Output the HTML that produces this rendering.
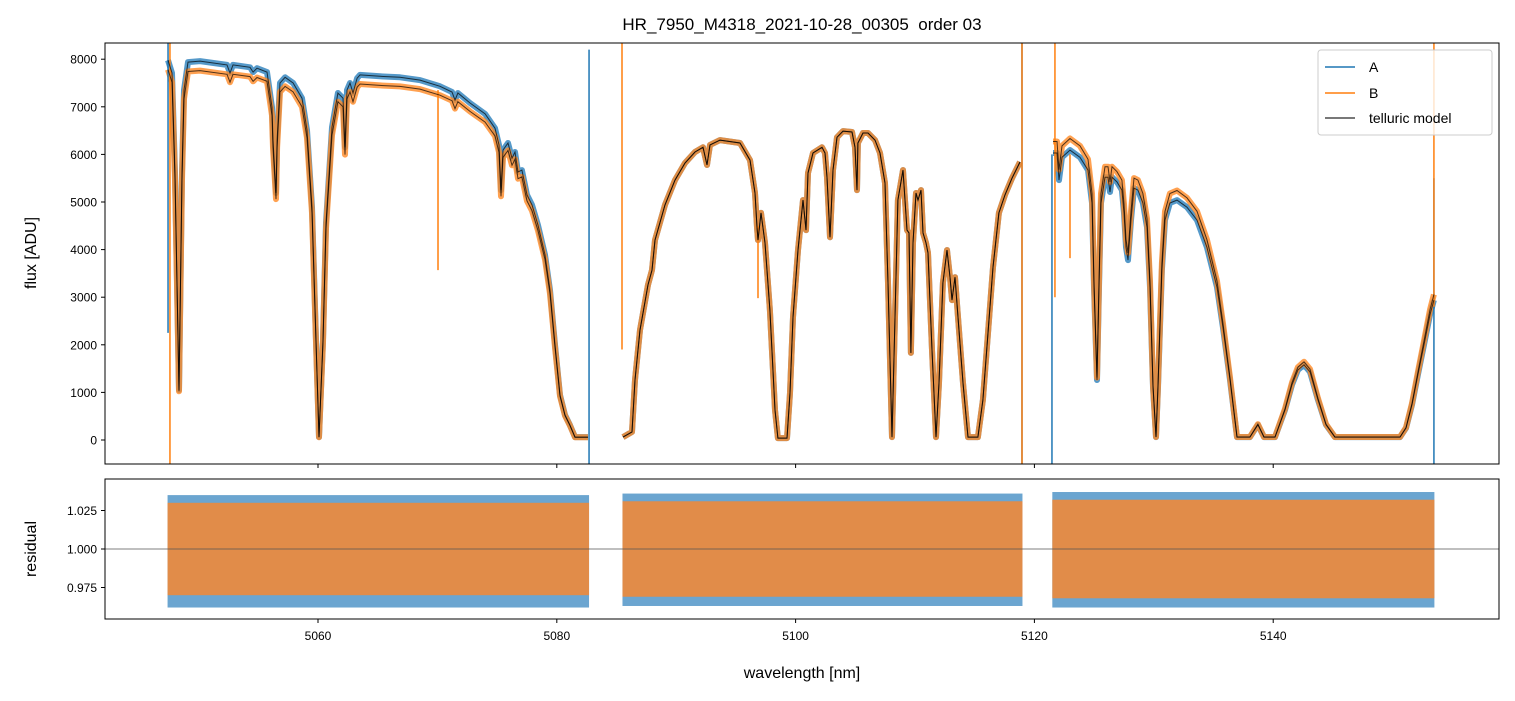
<!DOCTYPE html>
<html><head><meta charset="utf-8"><style>
body{margin:0;background:#fff;font-family:"Liberation Sans",sans-serif}
svg text{font-family:"Liberation Sans",sans-serif;fill:#000}
</style></head><body>
<svg id="chart" width="1515" height="696" viewBox="0 0 1515 696" xmlns="http://www.w3.org/2000/svg">
<defs>
<clipPath id="clipTop"><rect x="105" y="43" width="1394" height="421"/></clipPath>
<clipPath id="clipBot"><rect x="105" y="479" width="1394" height="140"/></clipPath>
</defs>
<text x="802" y="30" font-size="17" text-anchor="middle" style="white-space:pre">HR_7950_M4318_2021-10-28_00305  order 03</text>
<g id="topG" clip-path="url(#clipTop)"></g>
<g id="botG" clip-path="url(#clipBot)"></g>
<rect x="105" y="43" width="1394" height="421" fill="none" stroke="#000" stroke-width="1"/>
<rect x="105" y="479" width="1394" height="140" fill="none" stroke="#000" stroke-width="1"/>
<g id="axesG"></g>
<text transform="translate(36,253) rotate(-90)" font-size="16" text-anchor="middle">flux [ADU]</text>
<text transform="translate(36,549) rotate(-90)" font-size="16" text-anchor="middle">residual</text>
<text x="802" y="678" font-size="16" text-anchor="middle">wavelength [nm]</text>
<g>
<rect x="1318" y="50" width="174" height="85" rx="3" fill="#fff" fill-opacity="0.8" stroke="#ccc"/>
<line x1="1325" y1="67" x2="1355" y2="67" stroke="#1f77b4" stroke-width="1.5"/>
<text x="1369" y="72" font-size="14">A</text>
<line x1="1325" y1="93" x2="1355" y2="93" stroke="#ff7f0e" stroke-width="1.5"/>
<text x="1369" y="98" font-size="14">B</text>
<line x1="1325" y1="118" x2="1355" y2="118" stroke="#000" stroke-opacity="0.7" stroke-width="1.5"/>
<text x="1369" y="123" font-size="14">telluric model</text>
</g>
</svg>
<script>
const segStart = [5047.4, 5085.5, 5121.5];
const segEnd = [5082.7, 5119.0, 5153.5];
const ratioB = [0.975, 1.0, 1.04];
const modelWl = [5047.44,5047.77,5048.02,5048.36,5048.61,5048.78,5049.11,5050.12,5052.38,5052.63,5052.88,5054.30,5054.56,5054.89,5055.73,5056.15,5056.23,5056.48,5056.57,5056.82,5057.24,5057.91,5058.66,5059.08,5059.50,5059.83,5060.08,5060.42,5060.67,5061.17,5061.67,5062.09,5062.26,5062.43,5062.68,5062.93,5063.27,5063.52,5065.19,5066.87,5068.54,5070.22,5071.22,5071.47,5071.72,5072.73,5073.99,5074.82,5075.16,5075.33,5075.49,5075.91,5076.25,5076.50,5076.75,5077.08,5077.50,5077.92,5078.42,5079.01,5079.43,5079.85,5080.27,5080.69,5081.10,5081.52,5082.61,
5085.54,5086.30,5086.55,5086.97,5087.64,5087.97,5088.22,5089.06,5089.90,5090.74,5091.57,5092.24,5092.58,5092.83,5093.67,5095.34,5096.18,5096.60,5096.77,5096.85,5097.10,5097.44,5097.85,5098.27,5098.52,5099.28,5099.53,5099.78,5100.20,5100.62,5100.87,5101.04,5101.46,5102.21,5102.46,5102.63,5102.88,5103.13,5103.47,5103.97,5104.72,5104.97,5105.14,5105.22,5105.64,5106.06,5106.65,5107.07,5107.49,5107.74,5108.07,5108.32,5108.57,5108.99,5109.33,5109.50,5109.66,5109.83,5110.08,5110.25,5110.50,5110.67,5110.92,5111.09,5111.42,5111.76,5112.01,5112.34,5112.68,5112.93,5113.10,5113.35,5113.60,5114.02,5114.44,5115.27,5115.69,5116.11,5116.53,5117.03,5117.54,5118.12,5118.79,
5121.56,5121.89,5122.06,5122.31,5122.98,5123.82,5124.49,5124.82,5124.99,5125.24,5125.41,5125.58,5125.91,5126.16,5126.33,5126.50,5126.92,5127.33,5127.50,5127.67,5127.84,5128.09,5128.34,5128.67,5129.09,5129.43,5129.68,5129.93,5130.18,5130.35,5130.68,5130.94,5131.35,5131.94,5132.78,5133.62,5134.45,5135.29,5135.79,5136.38,5136.97,5138.05,5138.72,5139.23,5140.15,5140.99,5141.57,5142.07,5142.58,5143.08,5143.75,5144.42,5145.17,5150.62,5151.12,5151.62,5152.12,5152.63,5153.13,5153.46];
const modelFlux = [7980,7710,5610,1050,5610,7350,7940,7960,7880,7710,7880,7830,7730,7810,7730,6990,6300,5190,6300,7500,7620,7500,7180,6510,4890,2100,60,2100,4560,6570,7290,7180,6150,7350,7500,7290,7600,7670,7640,7620,7560,7430,7310,7140,7290,7080,6850,6550,6200,5250,6090,6240,5920,6050,5630,5670,5150,4940,4520,3890,3150,2000,945,525,315,60,60,
60,170,1260,2310,3260,3570,4200,4940,5460,5820,6050,6150,5780,6200,6300,6240,5880,5190,4470,4200,4770,4140,2730,630,40,40,990,2580,3990,5040,4410,5610,6030,6150,6030,5520,4260,5670,6360,6490,6470,6150,5250,6240,6450,6450,6300,6030,5400,3300,60,2580,5040,5670,4410,4350,1830,4140,5190,5040,5250,4350,4140,3930,1890,60,1200,3300,3990,3420,2940,3420,2580,1200,60,60,840,2250,3630,4770,5150,5500,5840,
6030,6030,5460,5940,6090,5940,5670,4980,3210,1260,3210,4980,5520,5520,5210,5520,5420,5250,4770,4050,3780,4620,5290,5250,4980,4470,3210,1110,60,1110,3570,4620,4980,5040,4890,4620,4050,3210,2370,1260,60,60,320,60,60,630,1160,1470,1580,1430,840,320,60,60,250,740,1370,2000,2630,2940];
const spikeSeries = ["A","A","A","A","A","B","B","B","B","B","B","B","B"];
const spikeWl = [5047.44,5082.70,5118.96,5121.47,5153.46,5047.60,5085.46,5118.96,5121.72,5153.46,5070.05,5122.98,5096.85];
const spikeFrom = [8340,8200,8340,6000,5500,8340,8340,8340,8340,8340,7350,6000,4500];
const spikeTo = [2250,-520,-520,-520,-520,-520,1900,-520,3000,2800,3570,3820,2980];
const residLoA = [0.962,0.963,0.962];
const residHiA = [1.035,1.036,1.037];
const residLoB = [0.970,0.969,0.968];
const residHiB = [1.030,1.031,1.032];
const xTicks = [5060,5080,5100,5120,5140];
const yTicks = [0,1000,2000,3000,4000,5000,6000,7000,8000];
const rTicks = [0.975,1.000,1.025];
const rTickLabels = ["0.975","1.000","1.025"];

const NS="http://www.w3.org/2000/svg";
const X = w => 105 + (w - 5042.16) * 11.94;
const Y = f => 440 - f * 0.0476;
const R = r => 549 - (r - 1) * 1540;
function mk(tag, attrs, parent){const e=document.createElementNS(NS,tag);for(const k in attrs)e.setAttribute(k,attrs[k]);parent.appendChild(e);return e;}
const topG=document.getElementById('topG'), botG=document.getElementById('botG'), axG=document.getElementById('axesG');
function segOf(w){for(let s=0;s<segStart.length;s++){if(w>=segStart[s]-0.2&&w<=segEnd[s]+0.2)return s;}return 0;}
function pathFor(scaleArr){
  let d='',last=-1;
  for(let i=0;i<modelWl.length;i++){const s=segOf(modelWl[i]);const f=modelFlux[i]*scaleArr[s];
    d+=(s!==last?'M':'L')+X(modelWl[i]).toFixed(1)+','+Y(f).toFixed(1);last=s;}
  return d;
}
const ones=[1,1,1];
let p=mk('path',{d:pathFor(ones),fill:'none',stroke:'#2b7fbb','stroke-width':6,'stroke-opacity':0.8,'stroke-linejoin':'round'},topG);


p=mk('path',{d:pathFor(ratioB),fill:'none',stroke:'#ff8a25','stroke-width':6,'stroke-opacity':0.8,'stroke-linejoin':'round'},topG);


for(let i=0;i<spikeWl.length;i++){
  const l=mk('line',{x1:X(spikeWl[i]),x2:X(spikeWl[i]),y1:Y(spikeFrom[i]),y2:Y(spikeTo[i]),stroke:spikeSeries[i]==='A'?'#1f77b4':'#ff7f0e','stroke-width':1.5},topG);
  
  
}
p=mk('path',{d:pathFor(ones),fill:'none',stroke:'#000','stroke-opacity':0.7,'stroke-width':1},topG);


p=mk('path',{d:pathFor(ratioB),fill:'none',stroke:'#000','stroke-opacity':0.7,'stroke-width':1},topG);


for(let s=0;s<segStart.length;s++){
  let r=mk('rect',{x:X(segStart[s]),width:X(segEnd[s])-X(segStart[s]),y:R(residHiA[s]),height:R(residLoA[s])-R(residHiA[s]),fill:'#3a87c0','fill-opacity':0.75},botG);
  
  
  r=mk('rect',{x:X(segStart[s]),width:X(segEnd[s])-X(segStart[s]),y:R(residHiB[s]),height:R(residLoB[s])-R(residHiB[s]),fill:'#ee8a3a','fill-opacity':0.9},botG);
  
  
}
let hl=mk('line',{x1:105,x2:1499,y1:R(1),y2:R(1),stroke:'#555','stroke-width':0.8},botG);


xTicks.forEach(t=>{
  const x=X(t);
  let a=mk('line',{x1:x,x2:x,y1:464,y2:468,stroke:'#000'},axG);
  
  
  a=mk('line',{x1:x,x2:x,y1:619,y2:623,stroke:'#000'},axG);
  
  
  const tx=mk('text',{x:x,y:640,'font-size':12,'text-anchor':'middle'},axG);tx.textContent=t;
  
  
});
yTicks.forEach(t=>{
  const y=Y(t);
  const a=mk('line',{x1:101,x2:105,y1:y,y2:y,stroke:'#000'},axG);
  
  
  const tx=mk('text',{x:97,y:y+4.5,'font-size':12,'text-anchor':'end'},axG);tx.textContent=t;
  
  
});
rTicks.forEach((t,i)=>{
  const y=R(t);
  const a=mk('line',{x1:101,x2:105,y1:y,y2:y,stroke:'#000'},axG);
  
  
  const tx=mk('text',{x:97,y:y+4.5,'font-size':12,'text-anchor':'end'},axG);tx.textContent=rTickLabels[i];
  
  
});
</script>
</body></html>
